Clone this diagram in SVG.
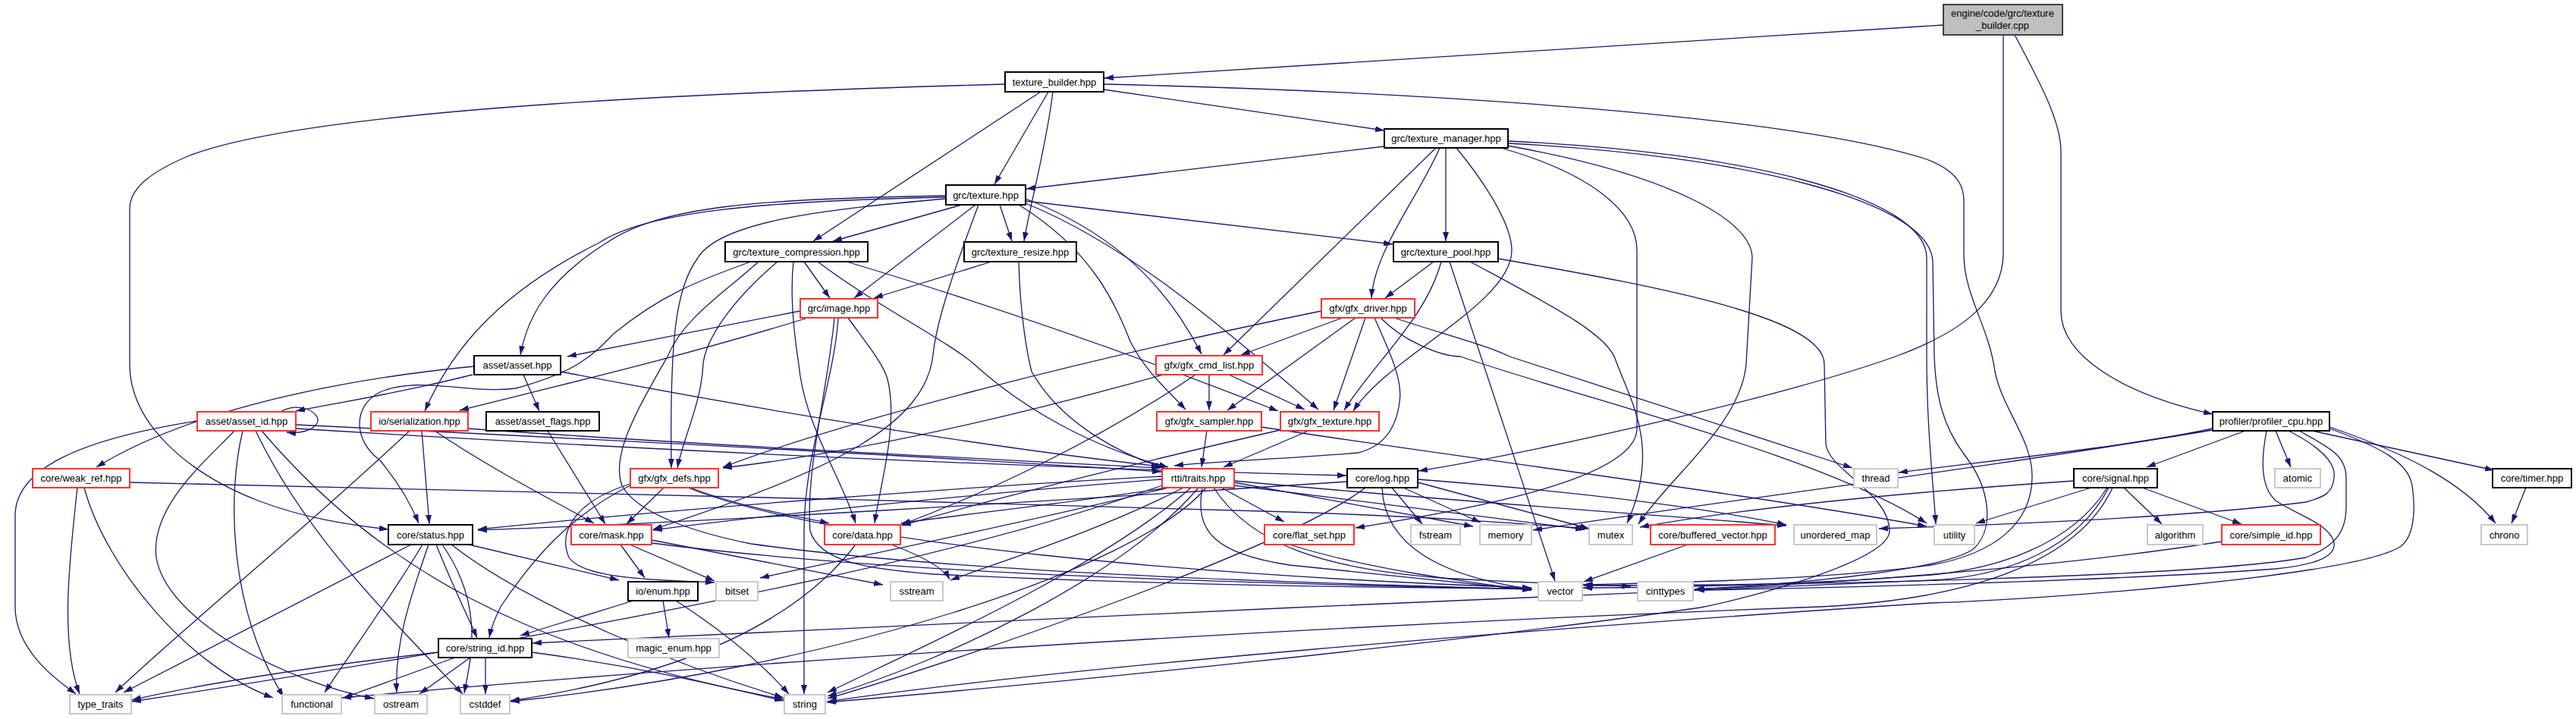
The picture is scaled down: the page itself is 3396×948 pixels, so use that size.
<svg xmlns="http://www.w3.org/2000/svg" width="3396" height="948" viewBox="0 0 3396 948">
<style>
rect{stroke-width:2}
.n{fill:#fff;stroke:#000}
.r{fill:#fff;stroke:#ff3030}
.g{fill:#fff;stroke:#c8c8c8}
.root{fill:#bfbfbf;stroke:#404040}
text{font-family:"Liberation Sans",Arial,sans-serif;font-size:13px;text-anchor:middle;fill:#000}
#edges path{fill:none;stroke:#191970;stroke-width:1.3;marker-end:url(#a)}
</style>
<defs>
<marker id="a" viewBox="0 0 12 8" refX="12" refY="4" markerWidth="12" markerHeight="8" markerUnits="userSpaceOnUse" orient="auto"><path d="M0,0 L12,4 L0,8 z" fill="#191970"/></marker>
</defs>
<rect x="0" y="0" width="3396" height="948" fill="#fff"/>
<g id="edges">
<path d="M2562,33 L1456,103"/>
<path d="M2641,46 L2641,333 C2641,400 2580,440 2499,470 C2330,530 2000,600 1870,621"/>
<path d="M2656,46 C2690,110 2717,160 2717,200 L2717,410 C2717,470 2800,520 2917,546"/>
<path d="M1325,111 C1000,120 420,140 250,205 C195,228 171,250 171,275 L171,480 C171,560 250,625 340,660 C400,683 460,692 512,698"/>
<path d="M1372,121 L1072,318"/>
<path d="M1382,121 L1311,243"/>
<path d="M1388,121 C1380,190 1360,260 1350,318"/>
<path d="M1455,118 L1825,172"/>
<path d="M1455,111 C1850,120 2350,150 2540,210 C2580,225 2589,245 2589,265 L2589,335 C2589,390 2622,430 2630,490 C2640,540 2680,580 2679,630 C2678,690 2630,730 2546,745 C2400,765 2200,768 2087,771"/>
<path d="M1825,193 L1353,249"/>
<path d="M1906,195 L1906,318"/>
<path d="M1898,195 C1870,260 1812,330 1808,393"/>
<path d="M1893,195 L1613,468"/>
<path d="M1920,195 C1965,250 1993,300 1993,330 C1993,400 1830,470 1784,542"/>
<path d="M1982,196 C2100,230 2158,280 2158,330 L2158,565 C2158,630 1950,670 1787,696"/>
<path d="M1987,192 C2200,230 2310,290 2310,340 L2302,480 C2295,560 2200,630 2160,691"/>
<path d="M1988,186 C2300,200 2540,260 2540,340 L2540,470 C2540,560 2548,630 2552,691"/>
<path d="M1988,189 C2300,205 2545,265 2548,345 L2550,470 C2552,520 2560,560 2590,600 C2625,645 2630,700 2600,725 C2560,750 2400,768 2234,777"/>
<path d="M1890,345 L1826,393"/>
<path d="M1900,345 C1880,420 1810,480 1772,541"/>
<path d="M1911,345 L2050,766"/>
<path d="M1938,345 C2040,400 2120,440 2130,475 C2150,530 2190,590 2145,690"/>
<path d="M1975,341 C2200,380 2405,420 2405,480 L2407,585 C2410,620 2491,650 2491,700 C2491,740 2300,790 2242,801 C1900,850 1400,900 1090,926"/>
<path d="M1268,270 L1098,318"/>
<path d="M1318,270 L1334,318"/>
<path d="M1352,265 L1836,322"/>
<path d="M1286,270 L1126,393"/>
<path d="M1352,262 C1450,300 1530,360 1584,467"/>
<path d="M1343,270 C1440,330 1470,400 1490,450 C1510,490 1540,515 1563,540"/>
<path d="M1352,268 C1480,320 1600,420 1738,540"/>
<path d="M1247,262 C1100,275 950,290 920,340 C890,380 883,450 885,617"/>
<path d="M1247,258 C1000,262 870,272 800,320 C720,370 695,420 686,468"/>
<path d="M1247,260 C1000,265 850,280 790,320 C670,380 600,450 560,542"/>
<path d="M1290,270 C1260,350 1235,420 1230,468 C1220,560 1100,620 861,698"/>
<path d="M1060,345 L1094,393"/>
<path d="M1025,345 C960,400 930,450 927,480 C925,530 900,580 893,617"/>
<path d="M1046,345 C1040,400 1050,460 1053,480 C1060,560 1110,630 1128,690"/>
<path d="M1078,345 C1150,400 1250,450 1284,480 C1350,540 1440,590 1540,616"/>
<path d="M1116,345 C1300,400 1500,470 1685,542"/>
<path d="M990,345 C920,370 870,390 809,440 C780,470 760,490 680,512 C620,520 550,495 501,517 C465,535 465,580 501,607 C520,630 540,660 552,690"/>
<path d="M1000,345 C950,390 901,420 880,470 C840,540 805,600 820,640 C840,680 930,705 990,717 C1300,760 1800,770 2019,777"/>
<path d="M1307,345 L1152,393"/>
<path d="M1343,345 C1345,420 1355,470 1360,490 C1400,560 1480,600 1535,617"/>
<path d="M1055,410 C950,430 850,450 748,470"/>
<path d="M1062,420 C900,470 750,505 606,541"/>
<path d="M1118,419 C1140,450 1165,480 1170,500 C1185,560 1160,640 1153,690"/>
<path d="M1105,420 C1100,500 1060,600 1060,700 L1060,915"/>
<path d="M1100,420 C1090,520 1062,620 1068,700 C1080,740 1140,750 1230,757 C1500,770 1800,775 2019,776"/>
<path d="M1770,419 L1636,468"/>
<path d="M1787,419 L1618,541"/>
<path d="M1800,419 L1758,541"/>
<path d="M1742,410 C1400,480 1100,560 953,616"/>
<path d="M1812,419 C1830,460 1850,500 1845,530 C1840,570 1820,590 1790,597 C1700,605 1600,608 1548,614"/>
<path d="M1838,419 C1900,440 1960,455 1990,470 L2442,617"/>
<path d="M1820,419 C1850,450 1900,470 1925,470 C2100,530 2400,600 2540,690"/>
<path d="M1594,494 L1594,541"/>
<path d="M1620,494 L1720,540"/>
<path d="M1576,494 C1450,580 1300,650 1188,692"/>
<path d="M1544,491 C1300,560 1100,600 953,617"/>
<path d="M1591,568 L1584,616"/>
<path d="M1663,563 C1900,600 2300,650 2540,694"/>
<path d="M1725,568 L1613,616"/>
<path d="M1692,566 C1500,610 1300,660 1189,693"/>
<path d="M1532,628 C1300,640 900,670 630,698"/>
<path d="M1532,632 C1300,650 1000,680 861,699"/>
<path d="M1540,643 C1400,665 1250,680 1188,690"/>
<path d="M1540,643 C1350,690 1100,740 1002,762"/>
<path d="M1560,643 C1450,700 1320,740 1253,765"/>
<path d="M1570,643 C1450,750 1200,860 1091,913"/>
<path d="M1580,643 C1480,760 1250,870 1091,918"/>
<path d="M1590,643 C1500,750 1100,880 673,925"/>
<path d="M1532,640 C1200,760 600,860 174,925"/>
<path d="M1610,643 L1693,688"/>
<path d="M1627,636 L1942,694"/>
<path d="M1627,640 L2089,698"/>
<path d="M1627,634 C1900,660 2200,680 2355,693"/>
<path d="M1585,643 C1575,700 1600,730 1700,745 C1850,760 1950,770 2019,778"/>
<path d="M1600,643 C1650,720 1750,750 1900,762 C2000,768 2100,771 2150,773"/>
<path d="M1835,643 L1875,691"/>
<path d="M1850,643 L1952,689"/>
<path d="M1869,636 L2095,697"/>
<path d="M1822,643 C1825,720 1900,760 2020,777"/>
<path d="M1776,635 C1400,660 900,690 630,699"/>
<path d="M1800,643 C1700,720 1300,860 1091,921"/>
<path d="M1869,632 C2100,650 2250,670 2355,692"/>
<path d="M2757,643 L2605,690"/>
<path d="M2800,643 L2850,691"/>
<path d="M2824,643 L2955,691"/>
<path d="M2780,643 C2740,720 2650,760 2546,765 C2000,790 1200,820 702,848"/>
<path d="M2778,643 C2730,720 2630,750 2546,758 C2400,770 2200,775 2087,775"/>
<path d="M2734,634 C2500,650 2300,670 2162,695"/>
<path d="M2785,643 C2740,740 2600,790 2400,800 C1600,830 900,880 451,920"/>
<path d="M2929,714 C2700,750 2400,770 2234,777"/>
<path d="M2960,568 L2830,616"/>
<path d="M3000,568 L3020,616"/>
<path d="M3048,568 L3288,620"/>
<path d="M3071,563 C3180,600 3250,640 3290,690"/>
<path d="M2917,565 C2800,590 2600,610 2503,623"/>
<path d="M2917,567 C2600,620 2200,670 2021,699"/>
<path d="M3017,568 C3060,590 3080,610 3077,630 C3075,650 3065,655 3040,662 C2900,680 2700,690 2477,697"/>
<path d="M3031,568 C3070,590 3093,600 3093,630 L3093,668 C3093,700 3080,720 3040,735 C2900,760 2400,772 2088,772"/>
<path d="M2988,568 C2982,600 2978,640 3000,660 C3030,680 3070,690 3077,715 C3080,735 3050,745 3000,750 C2800,765 2400,776 2235,778"/>
<path d="M3071,565 C3140,590 3175,610 3180,640 C3186,680 3180,710 3164,721 C3100,760 2700,790 2546,795 C2000,830 1400,880 1091,925"/>
<path d="M3330,643 L3311,690"/>
<path d="M102,643 C90,750 80,850 105,915"/>
<path d="M111,643 C140,750 250,880 360,920"/>
<path d="M171,636 C600,645 1200,660 1700,675 C1900,682 2000,690 2094,697"/>
<path d="M260,555 C100,580 20,620 20,680 L20,800 C20,860 80,900 100,915"/>
<path d="M320,568 C300,650 300,800 374,919"/>
<path d="M309,568 C271,608 198,668 206,735 C220,820 380,900 493,921"/>
<path d="M337,568 C400,700 500,800 610,915"/>
<path d="M345,568 C500,750 700,860 1033,922"/>
<path d="M390,560 C700,575 1200,600 1531,622"/>
<path d="M390,565 C800,590 1300,615 1775,627"/>
<path d="M370,543 C395,528 425,545 418,558 C412,568 395,572 378,570"/>
<path d="M556,568 L566,691"/>
<path d="M573,568 C650,620 730,660 783,690"/>
<path d="M540,568 C400,700 250,820 152,913"/>
<path d="M616,565 C900,585 1200,600 1530,617"/>
<path d="M623,494 C520,520 450,530 390,542"/>
<path d="M625,483 C450,500 250,540 127,616"/>
<path d="M690,494 L711,542"/>
<path d="M739,490 C1000,540 1300,590 1530,615"/>
<path d="M722,568 L798,691"/>
<path d="M910,643 C980,670 1050,680 1093,690"/>
<path d="M875,643 L826,691"/>
<path d="M831,638 C760,660 735,700 750,735 C770,765 880,765 942,768"/>
<path d="M831,640 C750,680 700,740 660,800 C650,820 647,830 645,841"/>
<path d="M907,643 C1100,720 1600,760 2019,775"/>
<path d="M542,718 L163,913"/>
<path d="M557,718 C520,780 470,850 428,913"/>
<path d="M565,718 C540,790 520,850 523,913"/>
<path d="M583,718 C640,800 620,870 612,914"/>
<path d="M575,718 C600,780 620,820 629,841"/>
<path d="M618,718 L816,765"/>
<path d="M595,718 C700,800 900,880 1033,920"/>
<path d="M818,718 L850,762"/>
<path d="M830,718 L942,766"/>
<path d="M859,712 L1164,771"/>
<path d="M859,716 C1200,760 1700,770 2019,777"/>
<path d="M1175,718 C1220,735 1245,750 1252,764"/>
<path d="M1128,718 C1050,820 900,890 673,924"/>
<path d="M874,792 L882,841"/>
<path d="M891,792 C950,830 1000,870 1040,915"/>
<path d="M835,792 L686,838"/>
<path d="M578,860 C400,880 250,905 174,923"/>
<path d="M600,867 L453,920"/>
<path d="M620,867 L553,915"/>
<path d="M640,867 L640,915"/>
<path d="M701,860 C850,880 950,905 1033,924"/>
<path d="M2225,718 L2088,767"/>
<path d="M1700,718 C1800,750 1950,770 2019,778"/>
</g>
<g id="n_engine"><rect class="root" x="2562" y="6" width="157" height="40"/><text x="2640" y="22">engine/code/grc/texture</text><text x="2640" y="38">_builder.cpp</text></g>
<g id="n_tb"><rect class="n" x="1325" y="95" width="130" height="26"/><text x="1390" y="112.5">texture_builder.hpp</text></g>
<g id="n_tm"><rect class="n" x="1825" y="170" width="163" height="25"/><text x="1906.5" y="187">grc/texture_manager.hpp</text></g>
<g id="n_tex"><rect class="n" x="1247" y="244" width="105" height="26"/><text x="1299.5" y="261.5">grc/texture.hpp</text></g>
<g id="n_tc"><rect class="n" x="956" y="319" width="188" height="26"/><text x="1050" y="336.5">grc/texture_compression.hpp</text></g>
<g id="n_tr"><rect class="n" x="1271" y="319" width="148" height="26"/><text x="1345" y="336.5">grc/texture_resize.hpp</text></g>
<g id="n_tp"><rect class="n" x="1837" y="319" width="138" height="26"/><text x="1906" y="336.5">grc/texture_pool.hpp</text></g>
<g id="n_img"><rect class="r" x="1055" y="394" width="102" height="25"/><text x="1106" y="411">grc/image.hpp</text></g>
<g id="n_drv"><rect class="r" x="1742" y="394" width="123" height="25"/><text x="1803.5" y="411">gfx/gfx_driver.hpp</text></g>
<g id="n_asset"><rect class="n" x="625" y="469" width="114" height="25"/><text x="682" y="486">asset/asset.hpp</text></g>
<g id="n_cmd"><rect class="r" x="1524" y="469" width="140" height="25"/><text x="1594" y="486">gfx/gfx_cmd_list.hpp</text></g>
<g id="n_aid"><rect class="r" x="260" y="543" width="130" height="25"/><text x="325" y="560">asset/asset_id.hpp</text></g>
<g id="n_ser"><rect class="r" x="489" y="543" width="128" height="25"/><text x="553" y="560">io/serialization.hpp</text></g>
<g id="n_flags"><rect class="n" x="641" y="543" width="149" height="25"/><text x="715.5" y="560">asset/asset_flags.hpp</text></g>
<g id="n_sampler"><rect class="r" x="1525" y="543" width="138" height="25"/><text x="1594" y="560">gfx/gfx_sampler.hpp</text></g>
<g id="n_gtex"><rect class="r" x="1688" y="543" width="130" height="25"/><text x="1753" y="560">gfx/gfx_texture.hpp</text></g>
<g id="n_prof"><rect class="n" x="2917" y="543" width="154" height="25"/><text x="2994" y="560">profiler/profiler_cpu.hpp</text></g>
<g id="n_weak"><rect class="r" x="43" y="618" width="128" height="25"/><text x="107" y="635">core/weak_ref.hpp</text></g>
<g id="n_defs"><rect class="r" x="831" y="618" width="116" height="25"/><text x="889" y="635">gfx/gfx_defs.hpp</text></g>
<g id="n_traits"><rect class="r" x="1532" y="618" width="95" height="25"/><text x="1579.5" y="635">rtti/traits.hpp</text></g>
<g id="n_log"><rect class="n" x="1776" y="618" width="93" height="25"/><text x="1822.5" y="635">core/log.hpp</text></g>
<g id="n_thread"><rect class="g" x="2444" y="618" width="58" height="25"/><text x="2473" y="635">thread</text></g>
<g id="n_signal"><rect class="n" x="2734" y="618" width="110" height="25"/><text x="2789" y="635">core/signal.hpp</text></g>
<g id="n_atomic"><rect class="g" x="2999" y="618" width="60" height="25"/><text x="3029" y="635">atomic</text></g>
<g id="n_timer"><rect class="n" x="3286" y="618" width="104" height="25"/><text x="3338" y="635">core/timer.hpp</text></g>
<g id="n_status"><rect class="n" x="512" y="692" width="111" height="26"/><text x="567.5" y="709.5">core/status.hpp</text></g>
<g id="n_mask"><rect class="r" x="753" y="692" width="106" height="26"/><text x="806" y="709.5">core/mask.hpp</text></g>
<g id="n_data"><rect class="r" x="1087" y="692" width="100" height="26"/><text x="1137" y="709.5">core/data.hpp</text></g>
<g id="n_flat"><rect class="r" x="1667" y="692" width="118" height="26"/><text x="1726" y="709.5">core/flat_set.hpp</text></g>
<g id="n_fstream"><rect class="g" x="1860" y="692" width="65" height="26"/><text x="1892.5" y="709.5">fstream</text></g>
<g id="n_memory"><rect class="g" x="1951" y="692" width="68" height="26"/><text x="1985" y="709.5">memory</text></g>
<g id="n_mutex"><rect class="g" x="2095" y="692" width="57" height="26"/><text x="2123.5" y="709.5">mutex</text></g>
<g id="n_bvec"><rect class="r" x="2176" y="692" width="164" height="26"/><text x="2258" y="709.5">core/buffered_vector.hpp</text></g>
<g id="n_umap"><rect class="g" x="2365" y="692" width="109" height="26"/><text x="2419.5" y="709.5">unordered_map</text></g>
<g id="n_utility"><rect class="g" x="2550" y="692" width="53" height="26"/><text x="2576.5" y="709.5">utility</text></g>
<g id="n_algorithm"><rect class="g" x="2831" y="692" width="73" height="26"/><text x="2867.5" y="709.5">algorithm</text></g>
<g id="n_simple"><rect class="r" x="2929" y="692" width="130" height="26"/><text x="2994" y="709.5">core/simple_id.hpp</text></g>
<g id="n_chrono"><rect class="g" x="3271" y="692" width="61" height="26"/><text x="3301.5" y="709.5">chrono</text></g>
<g id="n_enum"><rect class="n" x="828" y="767" width="92" height="25"/><text x="874" y="784">io/enum.hpp</text></g>
<g id="n_bitset"><rect class="g" x="944" y="767" width="55" height="25"/><text x="971.5" y="784">bitset</text></g>
<g id="n_sstream"><rect class="g" x="1174" y="767" width="69" height="25"/><text x="1208.5" y="784">sstream</text></g>
<g id="n_vector"><rect class="g" x="2028" y="767" width="58" height="25"/><text x="2057" y="784">vector</text></g>
<g id="n_cinttypes"><rect class="g" x="2159" y="767" width="73" height="25"/><text x="2195.5" y="784">cinttypes</text></g>
<g id="n_sid"><rect class="n" x="578" y="842" width="123" height="25"/><text x="639.5" y="859">core/string_id.hpp</text></g>
<g id="n_magic"><rect class="g" x="828" y="842" width="120" height="25"/><text x="888" y="859">magic_enum.hpp</text></g>
<g id="n_tt"><rect class="g" x="92" y="916" width="81" height="25"/><text x="132.5" y="933">type_traits</text></g>
<g id="n_functional"><rect class="g" x="372" y="916" width="78" height="25"/><text x="411" y="933">functional</text></g>
<g id="n_ostream"><rect class="g" x="494" y="916" width="69" height="25"/><text x="528.5" y="933">ostream</text></g>
<g id="n_cstddef"><rect class="g" x="607" y="916" width="65" height="25"/><text x="639.5" y="933">cstddef</text></g>
<g id="n_string"><rect class="g" x="1034" y="916" width="54" height="25"/><text x="1061" y="933">string</text></g>
</svg>
